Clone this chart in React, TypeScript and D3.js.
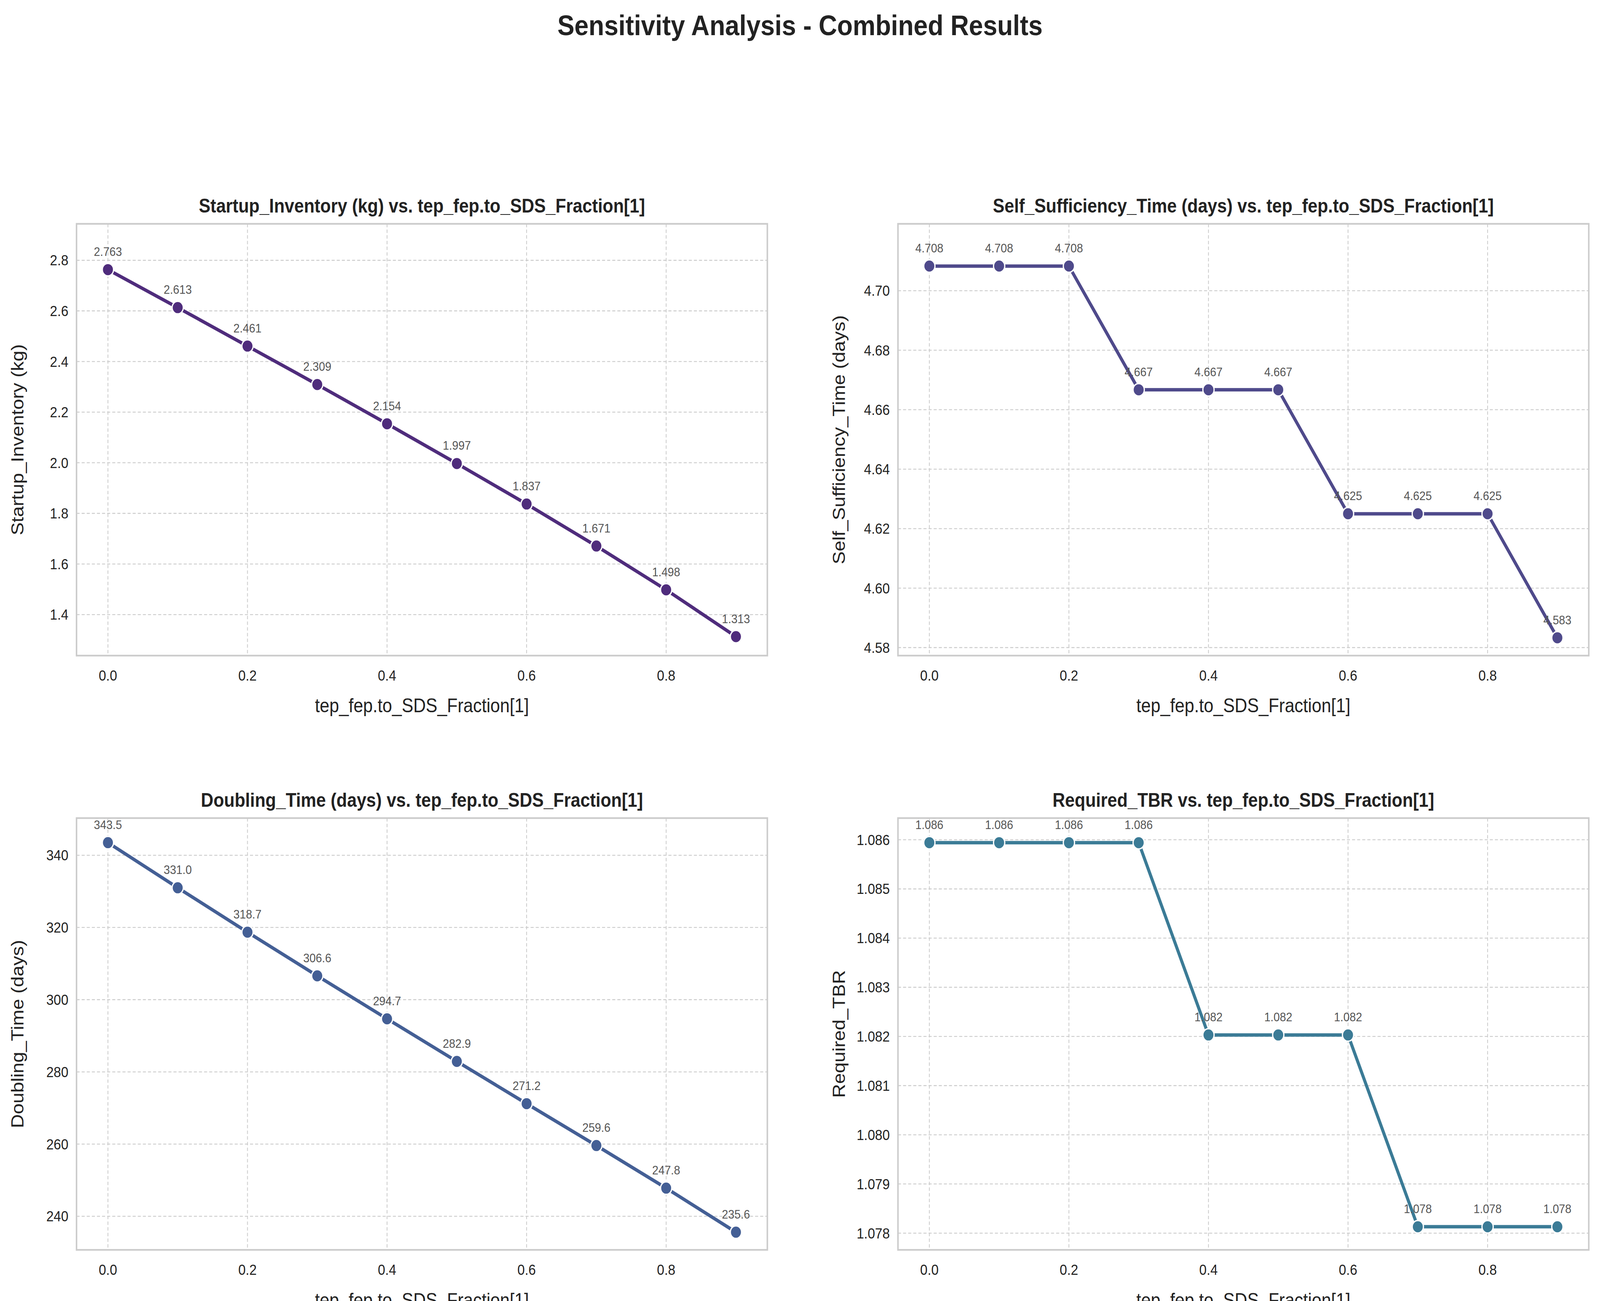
import React from 'react';
import * as d3 from 'd3';

const xs = [0, 0.1, 0.2, 0.3, 0.4, 0.5, 0.6, 0.7, 0.8, 0.9];
const startupInventory = [2.763, 2.613, 2.461, 2.309, 2.154, 1.997, 1.837, 1.671, 1.498, 1.313];
const selfSufficiency = [4.7083, 4.7083, 4.7083, 4.6667, 4.6667, 4.6667, 4.625, 4.625, 4.625, 4.5833];
const doublingTime = [343.5, 331.0, 318.7, 306.6, 294.7, 282.9, 271.2, 259.6, 247.8, 235.6];
const requiredTBR = [1.08594, 1.08594, 1.08594, 1.08594, 1.08203, 1.08203, 1.08203, 1.07813, 1.07813, 1.07813];
const xTicks = [0, 0.2, 0.4, 0.6, 0.8];

interface Panel {
  title: string;
  ylabel: string;
  values: number[];
  color: string;
  yDomain: [number, number];
  yTicks: number[];
  tickFmt: (v: number) => string;
  labelFmt: (v: number) => string;
  left: number;
  top: number;
}

const W = 677;
const H = 380;

const panels: Panel[] = [
  { title: 'Startup_Inventory (kg) vs. tep_fep.to_SDS_Fraction[1]', ylabel: 'Startup_Inventory (kg)', values: startupInventory, color: '#4f2c7c',
    yDomain: [1.238, 2.944], yTicks: [1.4, 1.6, 1.8, 2.0, 2.2, 2.4, 2.6, 2.8], tickFmt: d3.format('.1f'), labelFmt: d3.format('.3f'), left: 75, top: 197 },
  { title: 'Self_Sufficiency_Time (days) vs. tep_fep.to_SDS_Fraction[1]', ylabel: 'Self_Sufficiency_Time (days)', values: selfSufficiency, color: '#4f4a8b',
    yDomain: [4.5773, 4.7225], yTicks: [4.58, 4.60, 4.62, 4.64, 4.66, 4.68, 4.70], tickFmt: d3.format('.2f'), labelFmt: d3.format('.3f'), left: 880, top: 197 },
  { title: 'Doubling_Time (days) vs. tep_fep.to_SDS_Fraction[1]', ylabel: 'Doubling_Time (days)', values: doublingTime, color: '#445f95',
    yDomain: [230.7, 350.3], yTicks: [240, 260, 280, 300, 320, 340], tickFmt: d3.format('d'), labelFmt: d3.format('.1f'), left: 75, top: 720 },
  { title: 'Required_TBR vs. tep_fep.to_SDS_Fraction[1]', ylabel: 'Required_TBR', values: requiredTBR, color: '#3b7b96',
    yDomain: [1.07766, 1.08644], yTicks: [1.078, 1.079, 1.080, 1.081, 1.082, 1.083, 1.084, 1.085, 1.086], tickFmt: d3.format('.3f'), labelFmt: d3.format('.3f'), left: 880, top: 720 },
];

function PanelChart({ p }: { p: Panel }) {
  const x = d3.scaleLinear().domain([-0.045, 0.945]).range([0, W]);
  const y = d3.scaleLinear().domain(p.yDomain).range([H, 0]);
  const line = d3.line<number>().x((_, i) => x(xs[i])).y(v => y(v));
  const font = 'Arial, "Liberation Sans", sans-serif';
  return (
    <g transform={`translate(${p.left},${p.top})`} fontFamily={font}>
      <text x={W / 2} y={-10} textAnchor="middle" fontSize={17} fontWeight="bold" fill="#222">{p.title}</text>
      {xTicks.map(t => (
        <g key={'x' + t}>
          <line x1={x(t)} x2={x(t)} y1={0} y2={H} stroke="#cccccc" strokeWidth={0.8} strokeDasharray="3,2" />
          <text x={x(t)} y={H + 22} textAnchor="middle" fontSize={13} fill="#222">{t.toFixed(1)}</text>
        </g>
      ))}
      {p.yTicks.map(t => (
        <g key={'y' + t}>
          <line x1={0} x2={W} y1={y(t)} y2={y(t)} stroke="#cccccc" strokeWidth={0.8} strokeDasharray="3,2" />
          <text x={-8} y={y(t)} dy="0.35em" textAnchor="end" fontSize={13} fill="#222">{p.tickFmt(t)}</text>
        </g>
      ))}
      <rect x={0} y={0} width={W} height={H} fill="none" stroke="#cccccc" strokeWidth={1.5} />
      <path d={line(p.values) || ''} fill="none" stroke={p.color} strokeWidth={3} />
      {p.values.map((v, i) => (
        <g key={i}>
          <circle cx={x(xs[i])} cy={y(v)} r={5.5} fill={p.color} stroke="#fff" strokeWidth={1.2} />
          <text x={x(xs[i])} y={y(v) - 12} textAnchor="middle" fontSize={11} fill="#555">{p.labelFmt(v)}</text>
        </g>
      ))}
      <text x={W / 2} y={H + 50} textAnchor="middle" fontSize={17} fill="#222">tep_fep.to_SDS_Fraction[1]</text>
      <text transform={`translate(-52,${H / 2}) rotate(-90)`} textAnchor="middle" fontSize={17} fill="#222">{p.ylabel}</text>
    </g>
  );
}

export default function App() {
  return (
    <svg viewBox="0 0 1568 1145" preserveAspectRatio="none"
      style={{ position: 'fixed', left: 0, top: 0, width: '100vw', height: '100vh', background: '#fff', display: 'block' }}>
      <rect width={1568} height={1145} fill="#fff" />
      <text x={784} y={31} textAnchor="middle" fontSize={25} fontWeight="bold" fill="#222" fontFamily='Arial, "Liberation Sans", sans-serif'>
        Sensitivity Analysis - Combined Results
      </text>
      {panels.map((p, i) => <PanelChart key={i} p={p} />)}
    </svg>
  );
}
